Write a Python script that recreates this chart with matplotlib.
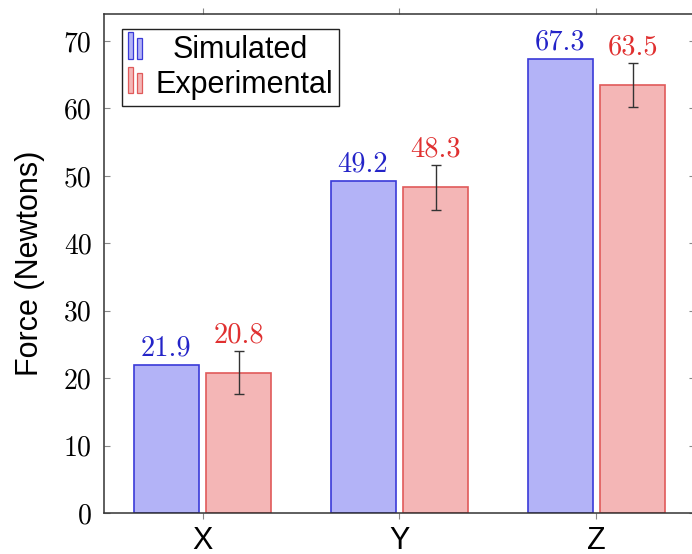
import matplotlib.pyplot as plt
import numpy as np
from matplotlib.patches import Rectangle, Patch
from matplotlib.legend_handler import HandlerBase

categories = ["X", "Y", "Z"]
simulated = [21.9, 49.2, 67.3]
experimental = [20.8, 48.3, 63.5]
exp_err = [3.2, 3.3, 3.3]
yticks = [0, 10, 20, 30, 40, 50, 60, 70]

BLUE_FILL, BLUE_EDGE, BLUE_TXT = "#b3b3f7", "#3a3ad8", "#2424c8"
RED_FILL, RED_EDGE, RED_TXT = "#f4b6b6", "#e05a5a", "#e03030"
SANS = "Liberation Sans"
SERIF = "cmr10"


class HandlerYbar(HandlerBase):
    """pgfplots-like ybar legend image: two small bars."""

    def create_artists(self, legend, orig_handle, xdescent, ydescent,
                       width, height, fontsize, trans):
        bw = width * 0.36
        x0, y0 = -xdescent, -ydescent - height * 0.02
        fc, ec = orig_handle.get_facecolor(), orig_handle.get_edgecolor()
        r1 = Rectangle((x0, y0), bw, height * 1.24, facecolor=fc, edgecolor=ec,
                       lw=0.9, transform=trans)
        r2 = Rectangle((x0 + width - bw, y0), bw, height * 0.95, facecolor=fc,
                       edgecolor=ec, lw=0.9, transform=trans)
        return [r1, r2]


fig = plt.figure(figsize=(6.92, 5.54), dpi=100)
ax = fig.add_axes([0.1503, 0.074, 0.854, 0.9007])

x = np.arange(len(categories))
width = 0.33
off = 0.185

ax.bar(x - off, simulated, width, color=BLUE_FILL, edgecolor=BLUE_EDGE, lw=1.2, zorder=2)
ax.bar(x + off, experimental, width, color=RED_FILL, edgecolor=RED_EDGE, lw=1.2, zorder=2)
ax.errorbar(x + off, experimental, yerr=exp_err, fmt="none", ecolor="#333333",
            elinewidth=1.0, capsize=3.5, capthick=1.0, zorder=3)

for xi, v in zip(x - off, simulated):
    ax.annotate(f"{v:.1f}", (xi, v), xytext=(0, 7), textcoords="offset points",
                ha="center", va="baseline", color=BLUE_TXT, fontsize=20.5, fontfamily=SERIF)
for xi, v, e in zip(x + off, experimental, exp_err):
    ax.annotate(f"{v:.1f}", (xi, v + e), xytext=(0, 6), textcoords="offset points",
                ha="center", va="baseline", color=RED_TXT, fontsize=20.5, fontfamily=SERIF)

ax.set_xlim(-0.5, 2.5)
ax.set_ylim(0, 74)
ax.set_xticks(x)
ax.set_xticklabels(categories, fontsize=22, fontfamily=SANS)
ax.set_yticks(yticks)
ax.set_yticklabels([str(t) for t in yticks], fontsize=20, fontfamily=SERIF)
ax.tick_params(axis="x", direction="out", length=4.5, width=0.8, color="#888888",
               top=True, pad=5)
ax.tick_params(axis="y", direction="in", length=4.5, width=0.8, color="#888888",
               right=True, pad=9)

for s in ax.spines.values():
    s.set_color("#333333")
    s.set_linewidth(1.1)

ax.set_ylabel("Force (Newtons)", fontsize=22, fontfamily=SANS)
ax.yaxis.set_label_coords(-0.1, 0.5)

handles = [Patch(facecolor=BLUE_FILL, edgecolor=BLUE_EDGE),
           Patch(facecolor=RED_FILL, edgecolor=RED_EDGE)]
leg = ax.legend(handles, ["Simulated", "Experimental"], loc="upper left",
                bbox_to_anchor=(0.0305, 0.97), borderaxespad=0, fancybox=False,
                edgecolor="#222222", framealpha=1, prop={"family": SANS, "size": 22},
                handlelength=0.45, handletextpad=0.45, labelspacing=0.15,
                borderpad=0.2, handler_map={Patch: HandlerYbar()})
leg.get_frame().set_linewidth(1.0)

# pgfplots centres the legend text in its column; shift the shorter entry
renderer = fig.canvas.get_renderer()
texts = leg.get_texts()
widths = [t.get_window_extent(renderer).width for t in texts]
for t, w in zip(texts, widths):
    t.set_x((max(widths) - w) * 0.4)

fig.savefig("out.png", dpi=100)
